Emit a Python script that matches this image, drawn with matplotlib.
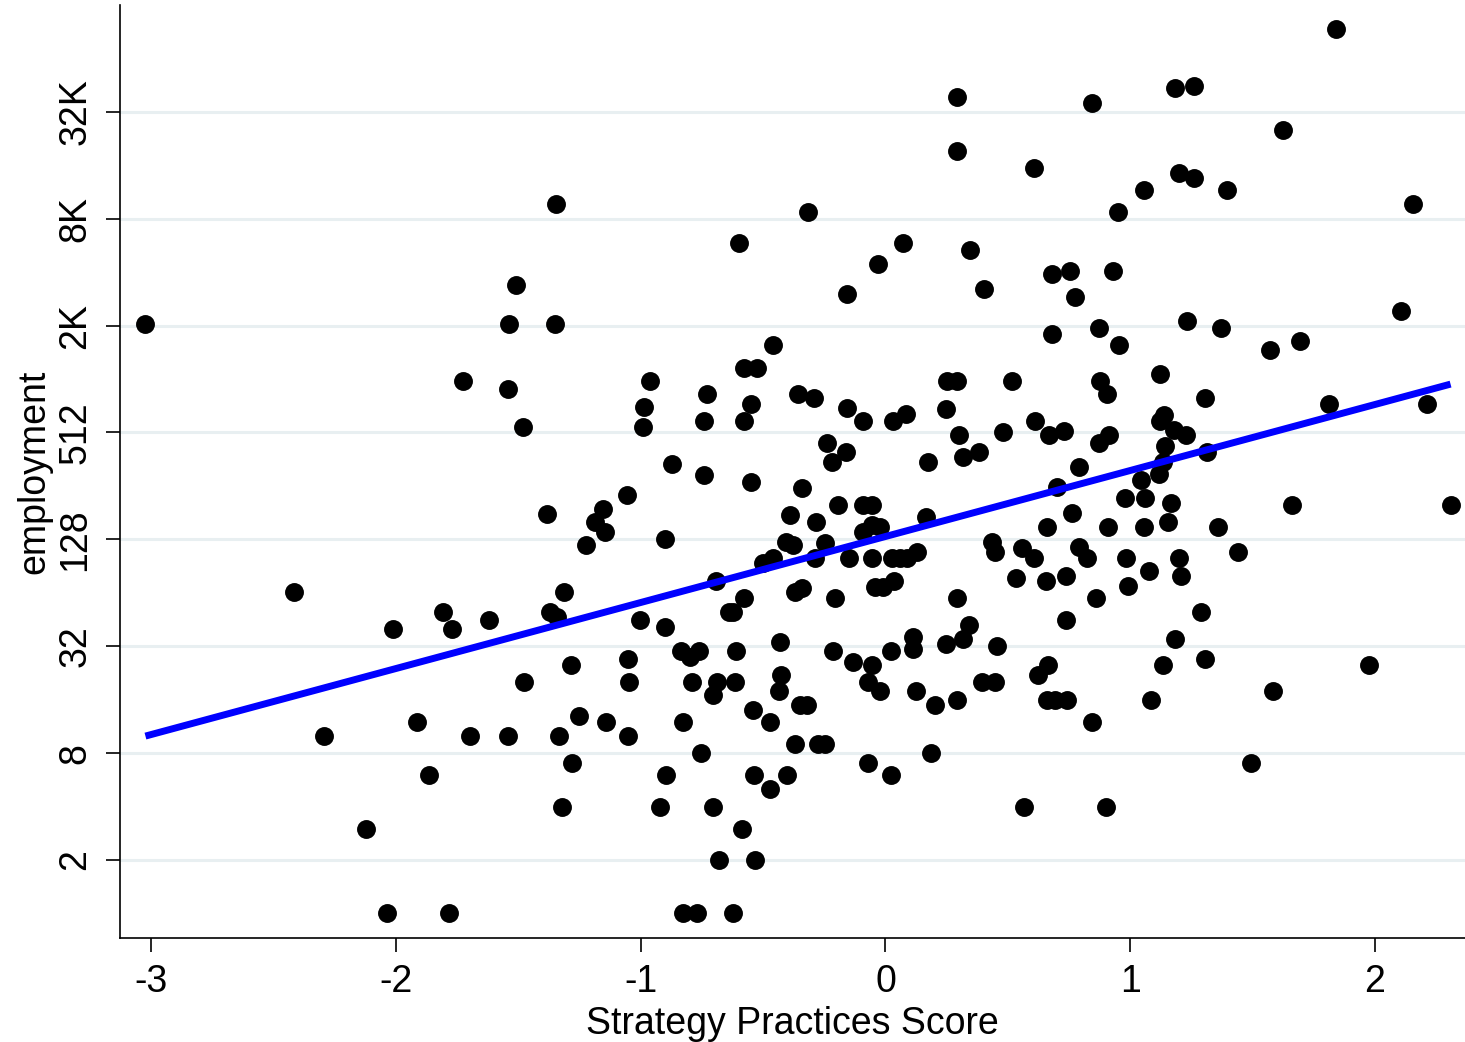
import matplotlib
matplotlib.use('Agg')

import numpy as np
import matplotlib.pyplot as plt
from matplotlib.ticker import NullLocator

plt.rcParams['font.family'] = ['Liberation Sans', 'DejaVu Sans']
plt.rcParams['axes.unicode_minus'] = False

# strategy practices score (x) and firm employment (y)
score = [
    -3.024, -2.419, -2.293, -2.121, -2.036, -2.011, -1.913, -1.864, -1.807, -1.782, -1.770,
    -1.725, -1.697, -1.619, -1.541, -1.537, -1.541, -1.509, -1.480, -1.476, -1.382, -1.370,
    -1.341, -1.345, -1.350, -1.333, -1.321, -1.313, -1.284, -1.280, -1.252, -1.223, -1.186,
    -1.154, -1.145, -1.141, -1.056, -1.051, -1.047, -1.051, -1.002, -0.990, -0.986, -0.962,
    -0.921, -0.900, -0.900, -0.896, -0.872, -0.835, -0.827, -0.827, -0.798, -0.790, -0.770,
    -0.762, -0.753, -0.741, -0.741, -0.729, -0.704, -0.704, -0.692, -0.688, -0.680, -0.639,
    -0.623, -0.623, -0.615, -0.610, -0.598, -0.586, -0.578, -0.578, -0.578, -0.549, -0.549,
    -0.541, -0.537, -0.533, -0.525, -0.500, -0.472, -0.472, -0.459, -0.459, -0.431, -0.427,
    -0.435, -0.406, -0.402, -0.390, -0.378, -0.370, -0.357, -0.370, -0.349, -0.341, -0.341,
    -0.321, -0.316, -0.292, -0.284,
    -0.288, -0.276, -0.247, -0.247, -0.239, -0.218, -0.214, -0.206, -0.194, -0.161, -0.157,
    -0.157, -0.149, -0.133, -0.092, -0.092, -0.092, -0.071, -0.071, -0.055, -0.055, -0.055,
    -0.055, -0.022, -0.043, -0.031, -0.022, -0.010, 0.022, 0.022, 0.027, 0.031, 0.035,
    0.059, 0.071, 0.084, 0.088, 0.112, 0.112, 0.125, 0.129, 0.165, 0.174, 0.186, 0.202,
    0.247, 0.247, 0.251, 0.292, 0.292, 0.292, 0.292, 0.292, 0.300, 0.316, 0.316, 0.341,
    0.345, 0.382, 0.394, 0.402, 0.435, 0.447, 0.447, 0.455, 0.480, 0.517, 0.533, 0.557,
    0.566, 0.606, 0.606, 0.610, 0.623, 0.655, 0.659, 0.659, 0.664, 0.668, 0.680, 0.680,
    0.692, 0.700, 0.729, 0.737, 0.737, 0.741, 0.753, 0.762, 0.774, 0.790, 0.790, 0.823,
    0.843, 0.843, 0.860, 0.872, 0.872, 0.876, 0.900, 0.904, 0.909, 0.913, 0.929, 0.949,
    0.953, 0.978, 0.982, 0.990,
    1.043, 1.056, 1.060, 1.056, 1.076, 1.084, 1.117, 1.121, 1.121, 1.133, 1.133, 1.137,
    1.141, 1.154, 1.166, 1.178, 1.182, 1.182, 1.198, 1.198, 1.207, 1.227, 1.231, 1.260,
    1.260, 1.288, 1.305, 1.305, 1.313, 1.358, 1.370, 1.394, 1.439, 1.492, 1.570, 1.582,
    1.623, 1.660, 1.693, 1.811, 1.840, 1.974, 2.105, 2.154, 2.211, 2.309,
]

employment = [
    2090, 65, 10, 3, 1, 40, 12, 6, 50, 1, 40,
    1000, 10, 45, 900, 2090, 10, 3470, 550, 20, 178, 50,
    47, 9935, 2090, 10, 4, 65, 25, 7, 13, 119, 161,
    190, 141, 12, 228, 27, 20, 10, 45, 550, 713, 1000,
    4, 129, 41, 6, 341, 30, 12, 1, 28, 20, 1,
    30, 8, 595, 295, 844, 4, 17, 75, 20, 2, 50,
    50, 1, 20, 30, 5990, 3, 1183, 595, 60, 742, 270,
    14, 6, 2, 1183, 94, 5, 12, 1595, 101, 34, 22,
    18, 124, 6, 176, 119, 9, 844, 65, 15, 249, 68,
    15, 8955, 802, 161,
    101, 9, 9, 122, 447, 349, 30, 60, 200, 398, 3089,
    704, 101, 26, 595, 200, 141, 20, 7, 200, 154, 101,
    25, 150, 69, 4562, 18, 69, 30, 6, 101, 595, 75,
    101, 5990, 651, 101, 36, 31, 18, 109, 171, 349, 8, 15,
    695, 33, 1000, 1000, 39790, 19760, 60, 16, 496, 373, 35, 42,
    5470, 398, 20, 3298, 124, 109, 20, 32, 516, 1000, 78, 114,
    4, 15850, 101, 595, 22, 75, 150, 16, 25, 496, 4006, 1839,
    16, 253, 522, 80, 45, 16, 4165, 180, 2971, 328, 116, 101,
    36830, 12, 60, 1988, 447, 1000, 4, 844, 150, 496, 4165, 8955,
    1595, 219, 101, 70,
    277, 11910, 219, 150, 85, 16, 299, 1095, 595, 349, 25, 643,
    430, 161, 205, 529, 44740, 35, 14850, 101, 80, 496, 2177, 45900,
    13910, 50, 802, 27, 398, 150, 1988, 11910, 109, 7, 1494, 18,
    25950, 200, 1680, 742, 96140, 25, 2478, 9935, 742, 200,
]

x_ticks = [-3, -2, -1, 0, 1, 2]
y_ticks = [2, 8, 32, 128, 512, 2048, 8192, 32768]
y_tick_labels = ['2', '8', '32', '128', '512', '2K', '8K', '32K']

score = np.array(score)
employment = np.array(employment, dtype=float)

fig = plt.figure(figsize=(14.65, 10.42), dpi=100)
ax = fig.add_axes([120 / 1465, 1 - 938 / 1042, 1 - 120 / 1465, 933 / 1042])

ax.set_yscale('log', base=2)
ax.set_xlim(-3.128, 2.368)
ax.set_ylim(2 ** -0.46, 2 ** 17)

ax.set_yticks(y_ticks)
ax.set_yticklabels(y_tick_labels, rotation=90, va='center')
ax.yaxis.set_minor_locator(NullLocator())
ax.set_xticks(x_ticks)
ax.set_xticklabels([str(t) for t in x_ticks])

ax.grid(axis='y', color='#e8eff1', linewidth=2.2)
ax.set_axisbelow(True)

ax.scatter(score, employment, s=185, c='black', linewidths=0, zorder=3)

# linear fit of log2(employment) on score
slope, intercept = np.polyfit(score, np.log2(employment), 1)
xs = np.array([score.min(), score.max()])
ax.plot(xs, 2 ** (intercept + slope * xs), color='#0000ff', linewidth=5, zorder=4,
        solid_capstyle='butt')

for side in ['top', 'right']:
    ax.spines[side].set_visible(False)
for side in ['left', 'bottom']:
    ax.spines[side].set_linewidth(1.2)
    ax.spines[side].set_color('black')

ax.tick_params(axis='both', length=10, width=1.2, color='black', labelsize=27, pad=9)
ax.set_xlabel('Strategy Practices Score', fontsize=27, labelpad=4)
ax.set_ylabel('employment', fontsize=27, labelpad=4)

fig.savefig('out.png', dpi=100)
